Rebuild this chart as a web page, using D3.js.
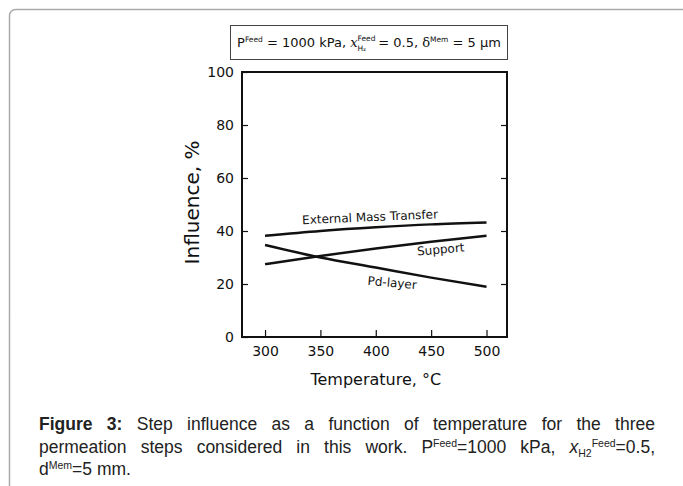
<!DOCTYPE html>
<html>
<head>
<meta charset="utf-8">
<script src="https://cdn.jsdelivr.net/npm/d3@7"></script>
<style>
  body { margin: 0; background: #fff; }
  #wrap { position: relative; width: 683px; height: 486px; overflow: hidden; }
  svg { position: absolute; left: 0; top: 0; }
  .caption { position: absolute; left: 39px; top: 413px; width: 616px;
    font-family: "Liberation Sans", Arial, sans-serif; font-size: 17.5px; color: #222; line-height: 22.5px; }
  .caption div { height: 22.5px; text-align: justify; text-align-last: justify; white-space: nowrap; }
  .caption div.last { text-align-last: left; }
  .caption sup, .caption sub { font-size: 10.5px; line-height: 0; vertical-align: baseline; position: relative; }
  .caption sup { top: -6px; }
  .caption sub { top: 4px; }
</style>
</head>
<body>
<div id="wrap"></div>
<script>
const WIDTH = 683;
const HEIGHT = 486;

// plot frame in pixels
const FRAME = {left: 242, right: 507, top: 72, bottom: 337};

const temperatures = [300, 350, 400, 450, 500];
const externalMassTransfer = [38.2, 40.0, 41.4, 42.5, 43.2];
const support = [27.5, 30.6, 33.4, 35.9, 38.2];
const pdLayer = [34.7, 30.0, 26.2, 22.4, 19.0];

const xTicks = [300, 350, 400, 450, 500];
const yTicks = [0, 20, 40, 60, 80, 100];

const seriesLabels = [
    {name: 'External Mass Transfer', t: 395, v: 43.7, angle: -2.5},
    {name: 'Support', t: 459, v: 31.5, angle: -5},
    {name: 'Pd-layer', t: 414.5, v: 18.9, angle: 5}
];

var xScale = d3.scaleLinear().domain([279.2, 518.5]).range([FRAME.left, FRAME.right]);
var yScale = d3.scaleLinear().domain([0, 100]).range([FRAME.bottom, FRAME.top]);

var chartFont = '"DejaVu Sans", sans-serif';

var svg = d3.select('#wrap').append('svg')
    .attr('width', WIDTH)
    .attr('height', HEIGHT);

// page border with rounded corner
svg.append('rect')
    .attr('x', 9.5).attr('y', 9.5)
    .attr('width', 720).attr('height', 520)
    .attr('rx', 6)
    .attr('fill', 'none')
    .attr('stroke', '#aaa')
    .attr('stroke-width', 1.5);

// header box
var header = svg.append('g');
header.append('rect')
    .attr('x', 230.5).attr('y', 25.5)
    .attr('width', 277).attr('height', 34)
    .attr('fill', 'none')
    .attr('stroke', '#444')
    .attr('stroke-width', 1);

var headerText = header.append('text')
    .attr('x', 369).attr('y', 47)
    .attr('text-anchor', 'middle')
    .attr('font-family', chartFont)
    .attr('font-size', 13)
    .attr('fill', '#111');
headerText.append('tspan').text('P');
headerText.append('tspan').attr('font-size', 7.5).attr('dy', -5).text('Feed');
headerText.append('tspan').attr('dy', 5).text(' = 1000 kPa, ');
headerText.append('tspan').attr('font-family', '"DejaVu Serif", serif').attr('font-style', 'italic').text('x');
headerText.append('tspan').attr('font-size', 7.5).attr('dy', -6).text('Feed');
headerText.append('tspan').attr('font-size', 7.5).attr('dx', -18).attr('dy', 10).text('H₂');
headerText.append('tspan').attr('dx', 8).attr('dy', -4).text(' = 0.5, ');
headerText.append('tspan').attr('font-family', '"DejaVu Serif", serif').text('δ');
headerText.append('tspan').attr('font-size', 7.5).attr('dy', -5).text('Mem');
headerText.append('tspan').attr('dy', 5).text(' = 5 μm');

var plot = svg.append('g');

// axes with inward ticks
var yAxis = d3.axisLeft(yScale).tickValues(yTicks).tickSizeInner(-6).tickSizeOuter(0).tickPadding(8);
var yAxisRight = d3.axisRight(yScale).tickValues(yTicks.slice(1, -1)).tickSizeInner(-6).tickSizeOuter(0).tickFormat('');
var xAxis = d3.axisBottom(xScale).tickValues(xTicks).tickSizeInner(-7).tickSizeOuter(0).tickPadding(9);

function styleAxis(g) {
    g.select('.domain').remove();
    g.selectAll('line').attr('stroke', '#111').attr('stroke-width', 1.2);
    g.selectAll('text').attr('font-family', chartFont).attr('font-size', 14).attr('fill', '#111');
}

plot.append('g').attr('transform', 'translate(' + FRAME.left + ',0)').call(yAxis).call(styleAxis);
plot.append('g').attr('transform', 'translate(' + FRAME.right + ',0)').call(yAxisRight).call(styleAxis);
plot.append('g').attr('transform', 'translate(0,' + FRAME.bottom + ')').call(xAxis).call(styleAxis);

// frame
plot.append('rect')
    .attr('x', FRAME.left).attr('y', FRAME.top)
    .attr('width', FRAME.right - FRAME.left)
    .attr('height', FRAME.bottom - FRAME.top)
    .attr('fill', 'none')
    .attr('stroke', '#111')
    .attr('stroke-width', 2);

// axis titles
plot.append('text')
    .attr('transform', 'translate(199,' + (yScale(50) - 2) + ') rotate(-90)')
    .attr('text-anchor', 'middle')
    .attr('font-family', chartFont)
    .attr('font-size', 20)
    .attr('fill', '#111')
    .text('Influence, %');

plot.append('text')
    .attr('x', xScale(400)).attr('y', 385)
    .attr('text-anchor', 'middle')
    .attr('font-family', chartFont)
    .attr('font-size', 16)
    .attr('fill', '#111')
    .text('Temperature, °C');

// curves
var line = d3.line()
    .x(function (d) { return xScale(d.t); })
    .y(function (d) { return yScale(d.v); })
    .curve(d3.curveMonotoneX);

[externalMassTransfer, support, pdLayer].forEach(function (values) {
    var pts = temperatures.map(function (t, i) { return {t: t, v: values[i]}; });
    plot.append('path')
        .attr('d', line(pts))
        .attr('fill', 'none')
        .attr('stroke', '#111')
        .attr('stroke-width', 2.5);
});

seriesLabels.forEach(function (s) {
    var x = xScale(s.t), y = yScale(s.v);
    plot.append('text')
        .attr('transform', 'translate(' + x + ',' + y + ') rotate(' + s.angle + ')')
        .attr('text-anchor', 'middle')
        .attr('font-family', chartFont)
        .attr('font-size', 12)
        .attr('fill', '#111')
        .text(s.name);
});

// caption
var caption = d3.select('#wrap').append('div').attr('class', 'caption');
caption.append('div').html('<b>Figure 3:</b> Step influence as a function of temperature for the three');
caption.append('div').html('permeation steps considered in this work. P<sup>Feed</sup>=1000 kPa, <i>x</i><sub>H2</sub><sup>Feed</sup>=0.5,');
caption.append('div').attr('class', 'last').html('d<sup>Mem</sup>=5 mm.');
</script>
</body>
</html>
